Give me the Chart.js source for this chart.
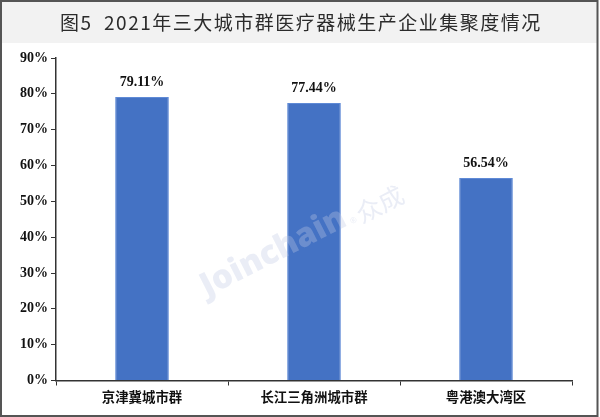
<!DOCTYPE html>
<html>
<head>
<meta charset="utf-8">
<style>
  html, body { margin: 0; padding: 0; background: #fff; }
  canvas { display: block; }
</style>
<script src="https://cdn.jsdelivr.net/npm/chart.js@4/dist/chart.umd.min.js"></script>
</head>
<body>
<canvas id="chart" width="600" height="417"></canvas>
<script>
const titleText = '图5  2021年三大城市群医疗器械生产企业集聚度情况';
const categories = ['京津冀城市群', '长江三角洲城市群', '粤港澳大湾区'];
const shareValues = [79.11, 77.44, 56.54];
const valueLabels = ['79.11%', '77.44%', '56.54%'];
const axisMax = 90;
const axisStep = 10;

const serifBold = 'bold 14px "Liberation Serif", "Noto Sans CJK SC"';

// Grey frame and title band behind the chart
const framePlugin = {
    id: 'frame',
    beforeDraw(chart) {
        const ctx = chart.ctx;
        ctx.save();
        ctx.fillStyle = '#ffffff';
        ctx.fillRect(0, 0, 600, 417);
        ctx.fillStyle = '#f2f2f2';
        ctx.fillRect(2, 2, 595, 41);
        ctx.strokeStyle = '#555555';
        ctx.lineWidth = 2;
        ctx.strokeRect(1, 1, 596.5, 415);
        ctx.restore();
    },
    afterDraw(chart) {
        const ctx = chart.ctx;
        ctx.save();
        ctx.fillStyle = '#2b2b2b';
        ctx.font = '400 19px "Noto Sans CJK SC"';
        ctx.letterSpacing = '1.5px';
        ctx.textAlign = 'left';
        ctx.textBaseline = 'middle';
        ctx.fillText(titleText, 60, 23);
        ctx.restore();
    }
};

// Value labels above the bars
const valueLabelPlugin = {
    id: 'valueLabels',
    afterDatasetsDraw(chart) {
        const ctx = chart.ctx;
        const bars = chart.getDatasetMeta(0).data;
        ctx.save();
        ctx.fillStyle = '#111111';
        ctx.font = serifBold;
        ctx.textAlign = 'center';
        ctx.textBaseline = 'middle';
        bars.forEach((bar, i) => {
            ctx.fillText(valueLabels[i], bar.x, bar.y - 15);
        });
        ctx.restore();
    }
};

// Faint watermark across the middle
const watermarkPlugin = {
    id: 'watermark',
    afterDatasetsDraw(chart) {
        const ctx = chart.ctx;
        ctx.save();
        ctx.translate(207, 297);
        ctx.rotate(-27 * Math.PI / 180);
        ctx.fillStyle = 'rgba(190, 200, 228, 0.33)';
        ctx.textAlign = 'left';
        ctx.textBaseline = 'alphabetic';
        ctx.font = '800 33px "Open Sans"';
        ctx.fillText('Joinchain', 0, 0);
        ctx.font = '8px "Open Sans"';
        ctx.fillText('®', 162, 1);
        ctx.font = '25px "Noto Sans CJK SC"';
        ctx.fillText('众成', 171, 5);
        ctx.restore();
    }
};

new Chart(document.getElementById('chart'), {
    type: 'bar',
    data: {
        labels: categories,
        datasets: [{
            data: shareValues,
            backgroundColor: '#4472c4',
            borderColor: '#5f8ad6',
            borderWidth: 1,
            categoryPercentage: 1,
            barPercentage: 0.312
        }]
    },
    plugins: [framePlugin, watermarkPlugin, valueLabelPlugin],
    options: {
        responsive: false,
        animation: false,
        layout: {
            autoPadding: false,
            padding: { top: 58, right: 28, bottom: 0, left: 0 }
        },
        plugins: {
            legend: { display: false },
            title: { display: false },
            tooltip: { enabled: false }
        },
        scales: {
            x: {
                afterFit(scale) { scale.height = 36.5; },
                border: { color: '#333333', width: 1.5 },
                grid: { offset: true, drawOnChartArea: false, color: '#333333', tickLength: 5, tickWidth: 1 },
                ticks: {
                    color: '#111111',
                    padding: 3,
                    maxRotation: 0,
                    font: { family: '"Noto Sans CJK SC"', size: 13.4, weight: 'bold' }
                }
            },
            y: {
                min: 0,
                max: axisMax,
                afterFit(scale) { scale.width = 56; },
                border: { color: '#333333', width: 1.5 },
                grid: { drawOnChartArea: false, color: '#333333', tickLength: 5, tickWidth: 1 },
                ticks: {
                    stepSize: axisStep,
                    color: '#111111',
                    padding: 3,
                    font: { family: '"Liberation Serif"', size: 14, weight: 'bold' },
                    callback: value => value + '%'
                }
            }
        }
    }
});
</script>
</body>
</html>
